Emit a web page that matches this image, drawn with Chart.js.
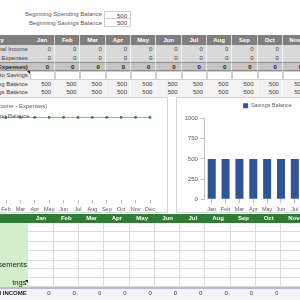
<!DOCTYPE html>
<html>
<head>
<meta charset="utf-8">
<script src="https://cdn.jsdelivr.net/npm/chart.js@4.4.0/dist/chart.umd.min.js"></script>
<style>
html, body { margin: 0; padding: 0; }
body { width: 300px; height: 300px; overflow: hidden; position: relative; background: #fff;
       font-family: "Liberation Sans", Arial, sans-serif; color: #404040; }
.c { position: absolute; box-sizing: border-box; white-space: nowrap; overflow: hidden;
     font-size: 6px; line-height: 8px; }
.chartbox { position: absolute; box-sizing: border-box; border: 1px solid #d4d4d4; background: #fff; }
canvas { position: absolute; }
.tri { position: absolute; width: 0; height: 0; border-left: 3px solid transparent; border-top: 3px solid #202020; }
</style>
</head>
<body>
<div id="sheet"></div>

<div class="chartbox" style="left:-20px;top:97px;width:188px;height:116px"></div>
<div class="chartbox" style="left:176px;top:97px;width:200px;height:116px"></div>
<canvas id="leftChart" width="228" height="116" style="left:-60px;top:97px"></canvas>
<canvas id="rightChart" width="209" height="116" style="left:163px;top:97px"></canvas>
<div class="c" style="left:-19px;top:102px;color:#595959">Net (Income - Expenses)</div>
<div class="c" style="left:-19px;top:112px;color:#595959">Spending Balance</div>

<div id="sheet2"></div>

<script>
const months = ['Jan', 'Feb', 'Mar', 'Apr', 'May', 'Jun', 'Jul', 'Aug', 'Sep', 'Oct', 'Nov', 'Dec'];
const beginningSpending = 500;
const beginningSavings = 500;
const totalIncome = [0, 0, 0, 0, 0, 0, 0, 0, 0, 0, 0, 0];
const totalExpenses = [0, 0, 0, 0, 0, 0, 0, 0, 0, 0, 0, 0];
const netIncome = [0, 0, 0, 0, 0, 0, 0, 0, 0, 0, 0, 0];
const toSavings = ['', '', '', '', '', '', '', '', '', '', '', ''];
const spendingBalance = [500, 500, 500, 500, 500, 500, 500, 500, 500, 500, 500, 500];
const savingsBalance = [500, 500, 500, 500, 500, 500, 500, 500, 500, 500, 500, 500];
const incomeTotal = [0, 0, 0, 0, 0, 0, 0, 0, 0, 0, 0, 0];

// --- spreadsheet cells ---
const sheet = document.getElementById('sheet');
function cell(parent, x, y, w, h, text, css) {
  const d = document.createElement('div');
  d.className = 'c';
  d.style.cssText = `left:${x}px;top:${y}px;width:${w}px;height:${h}px;line-height:${h}px;` + (css || '');
  d.textContent = text;
  parent.appendChild(d);
  return d;
}
const colX = i => 29.85 + 25.3 * i;
const colW = 25.3;

cell(sheet, 0, 10, 102, 8, 'Beginning Spending Balance', 'text-align:right;color:#595959');
cell(sheet, 104, 10.5, 27, 8, String(beginningSpending), 'text-align:right;padding-right:3px;border:1px solid #cfcfcf;background:#fff');
cell(sheet, 0, 19, 102, 8, 'Beginning Savings Balance', 'text-align:right;color:#595959');
cell(sheet, 104, 18.5, 27, 8.5, String(beginningSavings), 'text-align:right;padding-right:3px;border:1px solid #cfcfcf;border-top:none;background:#fff');

const rows = [
  { label: 'Category', y: 35, h: 10, vals: months, lab: 'text-align:right;padding-right:26px;color:#fff;font-weight:bold', bg: '#7f7f7f', val: 'text-align:center;color:#fff;font-weight:bold' },
  { label: 'Total Income', y: 45, h: 8.5, vals: totalIncome, bg: '#d9d9d9', val: 'text-align:right;padding-right:3px' },
  { label: 'Total Budgeted Expenses', y: 53.5, h: 8.5, vals: totalExpenses, bg: '#d9d9d9', val: 'text-align:right;padding-right:3px' },
  { label: 'Net Income (Expenses)', y: 62, h: 8.5, vals: netIncome, bg: '#c4c4c4', lab: 'text-align:right;padding-right:2px;font-weight:bold;color:#202020', val: 'text-align:right;padding-right:5px;font-weight:bold;color:#202020', extra: 'border-top:1px solid #8c8c8c;border-bottom:1px solid #8c8c8c' },
  { label: 'Transfer to Savings', y: 71, h: 8.5, vals: toSavings, bg: '#fff', labBg: '#e6e6e6', val: 'border:1px solid #cfcfcf' },
  { label: 'Spending Balance', y: 79.5, h: 8.5, vals: spendingBalance, bg: '#f2f2f2', val: 'text-align:right;padding-right:3px' },
  { label: 'Savings Balance', y: 88, h: 8.5, vals: savingsBalance, bg: '#f2f2f2', val: 'text-align:right;padding-right:3px' }
];
rows.forEach(r => {
  cell(sheet, -70, r.y, 99.85, r.h, r.label,
    `text-align:right;padding-right:2px;background:${r.labBg || r.bg};` + (r.lab || '') + ';' + (r.extra || ''));
  r.vals.forEach((v, i) => {
    cell(sheet, colX(i), r.y, colW, r.h, String(v),
      `background:${r.bg};border-right:1px solid rgba(255,255,255,0.7);` + (r.extra || '') + ';' + r.val);
  });
});
const t1 = document.createElement('div'); t1.className = 'tri'; t1.style.cssText = 'left:26.5px;top:71px'; sheet.appendChild(t1);

// lower table
const sheet2 = document.getElementById('sheet2');
cell(sheet2, -70, 214, 98.3 + 300, 9, '', 'background:#2f7d32');
months.forEach((m, i) => cell(sheet2, colX(i) - 1.5, 214, colW, 9, m, 'text-align:center;color:#fff;font-weight:bold'));
cell(sheet2, -70, 223, 98.3, 64.3, '', 'background:#d3eecb');
const lowerLines = [223, 232.3, 241.7, 251, 260.7, 269.3, 278.3];
lowerLines.forEach((y, k) => {
  const h = (k < lowerLines.length - 1 ? lowerLines[k + 1] : 287.3) - y;
  months.forEach((m, i) => cell(sheet2, colX(i) - 1.5, y, colW, h, '', 'border-right:1px solid #dcdcdc;border-bottom:1px solid #dcdcdc;background:#fff'));
});
cell(sheet2, -70, 260.7, 97, 8.6, 'Reimbursements', 'text-align:right;color:#202020;font-size:7.6px');
cell(sheet2, 11.5, 278.3, 15, 9, 'Savings', 'display:flex;justify-content:flex-end;color:#202020;font-size:7.6px');
const t2 = document.createElement('div'); t2.className = 'tri'; t2.style.cssText = 'left:25px;top:280px'; sheet2.appendChild(t2);
cell(sheet2, -70, 287.3, 500, 13, '', 'background:#f3f3f8;border-top:2px solid #b9b9dc');
cell(sheet2, -70, 289, 96.8, 8, 'Total INCOME', 'text-align:right;font-weight:bold;color:#202020');
incomeTotal.forEach((v, i) => cell(sheet2, colX(i) - 1.5, 289, colW, 8, String(v), 'text-align:right;padding-right:3px'));

// --- charts ---
Chart.defaults.font.family = '"Liberation Sans", Arial, sans-serif';
Chart.defaults.color = '#595959';

new Chart(document.getElementById('leftChart'), {
  type: 'bar',
  data: {
    labels: months,
    datasets: [
      { type: 'bar', label: 'Net (Income - Expenses)', data: netIncome, backgroundColor: '#4472c4' },
      { type: 'line', label: 'Spending Balance', data: spendingBalance, borderColor: '#74c476', borderWidth: 1,
        pointRadius: 1.4, pointBackgroundColor: '#3d7a3d', pointBorderWidth: 0 }
    ]
  },
  options: {
    responsive: false, animation: false, devicePixelRatio: 1,
    layout: { padding: { left: 44.4, right: 10.8, top: 4, bottom: 0 } },
    plugins: { legend: { display: false }, tooltip: { enabled: false } },
    scales: {
      x: {
        offset: true,
        grid: { display: true, offset: false, drawOnChartArea: false, tickLength: 4, color: '#bfbfbf' },
        border: { display: false },
        ticks: { font: { size: 5.5 }, padding: 3, maxRotation: 0, autoSkip: false },
        afterFit: s => { s.height = 13.5; }
      },
      y: { display: false, min: 0, max: 600 }
    }
  }
});

new Chart(document.getElementById('rightChart'), {
  type: 'bar',
  data: {
    labels: months,
    datasets: [
      { label: 'Savings Balance', data: savingsBalance, backgroundColor: '#2f5597', barPercentage: 0.58, categoryPercentage: 1 }
    ]
  },
  options: {
    responsive: false, animation: false, devicePixelRatio: 1,
    layout: { padding: 0 },
    plugins: {
      legend: { position: 'top', labels: { boxWidth: 5, boxHeight: 5, padding: 6, font: { size: 5.5 } } },
      tooltip: { enabled: false }
    },
    scales: {
      x: {
        grid: { display: true, offset: false, drawOnChartArea: false, tickLength: 4, color: '#bfbfbf' },
        border: { display: false },
        ticks: { font: { size: 5.5 }, padding: 3, maxRotation: 0, autoSkip: false },
        afterFit: s => { s.height = 13.7; }
      },
      y: {
        min: 0, max: 1000,
        ticks: { stepSize: 250, font: { size: 6 }, padding: 3, callback: v => String(v) },
        grid: { drawOnChartArea: false, tickLength: 4, color: '#bfbfbf' },
        border: { color: '#bfbfbf' },
        afterFit: s => { s.width = 41.8; }
      }
    }
  }
});
</script>
</body>
</html>
